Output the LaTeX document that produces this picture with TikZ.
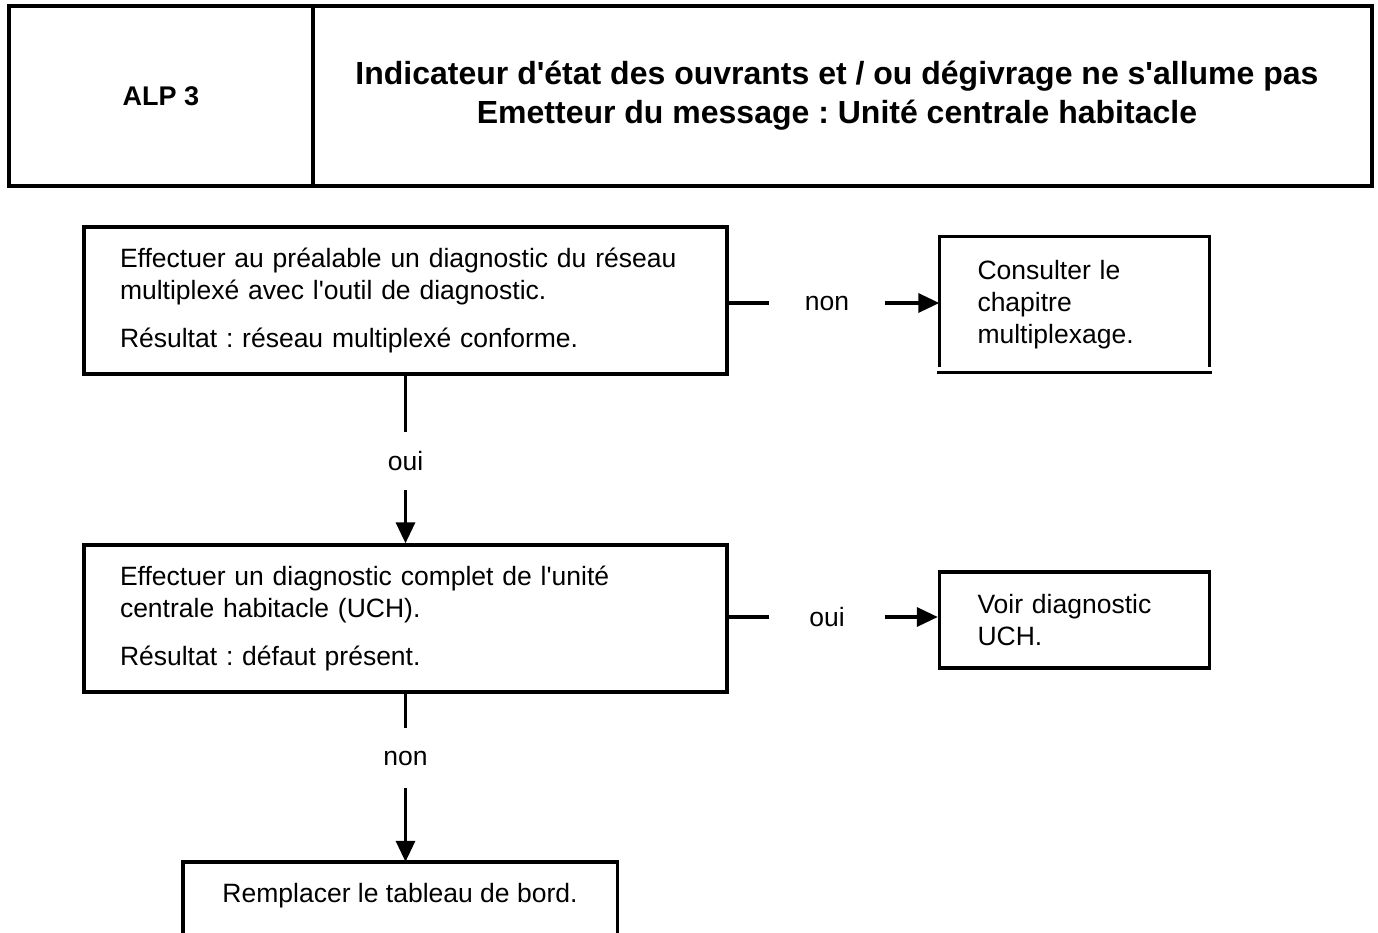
\documentclass[tikz,border=0pt]{standalone}
\usepackage{fontspec}
\setmainfont{Liberation Sans}
% plain family without TeX ligature mapping, so ' stays a straight apostrophe
\newfontfamily\arialfam{Liberation Sans}
\usetikzlibrary{arrows.meta}
\frenchspacing
\begin{document}
\begin{tikzpicture}[x=1pt,y=-1pt,
  line/.style={line width=3.4pt},
  arrow/.style={line width=3.4pt,-{Triangle[length=21pt,width=19pt]}},
  body/.style={font=\arialfam\fontsize{26.5}{32}\selectfont},
  headcell/.style={draw,line width=3.4pt,inner sep=0pt,minimum height=180,align=center},
  stepbox/.style={draw,line width=3.4pt,body,align=left,inner ysep=0pt},
  plainbox/.style={body,align=left,inner ysep=0pt},
  lbl/.style={body,inner sep=0pt}
]
\useasboundingbox (0,0) rectangle (1378,933);

% header
\node[headcell,minimum width=304,font=\arialfam\bfseries\fontsize{27}{32}\selectfont] (alp) at (161,96) {ALP 3};
\node[headcell,minimum width=1059] (titlecell) at (842.5,96) {};
\node[font=\arialfam\bfseries\fontsize{32}{39}\selectfont,align=center,inner sep=0pt] (title) at (837,96)
  {Indicateur d'état des ouvrants et / ou dégivrage ne s'allume pas\\
   Emetteur du message : Unité centrale habitacle};

% first check
\node[stepbox,text width=571,inner xsep=36,minimum height=147] (b1) at (405.5,300.5)
  {Effectuer au préalable un diagnostic du réseau\\
   multiplexé avec l'outil de diagnostic.\\[16pt]
   Résultat : réseau multiplexé conforme.};
\node[plainbox,text width=194,inner xsep=38,minimum height=135] (c1) at (1074.5,304.5)
  {Consulter le\\ chapitre\\ multiplexage.};
\draw[line] ([yshift=5]c1.south west) -- (c1.north west) -- (c1.north east) -- ([yshift=5]c1.south east);
\draw[line] ([xshift=-2]c1.south west) -- ([xshift=2]c1.south east);

\node[lbl,minimum width=116] (n1) at (827,303) {non};
\draw[line] (b1.east |- n1) -- (n1.west);
\draw[arrow] (n1.east) -- (c1.west |- n1);

\node[lbl,minimum height=58] (o1) at (b1.south |- 0,461) {oui};
\draw[line] (b1.south) -- (o1.north);

% second check
\node[stepbox,text width=571,inner xsep=36,minimum height=147] (b2) at (405.5,618.5)
  {Effectuer un diagnostic complet de l'unité\\
   centrale habitacle (UCH).\\[16pt]
   Résultat : défaut présent.};
\draw[arrow] (o1.south) -- (b2.north);

\node[stepbox,text width=194,inner xsep=38,minimum height=96] (c2) at (1074.5,620)
  {Voir diagnostic\\ UCH.};
\node[lbl,minimum width=116] (o2) at (827,617) {oui};
\draw[line] (b2.east |- o2) -- (o2.west);
\draw[arrow] (o2.east) -- (c2.west |- o2);

\node[lbl,minimum height=60] (n2) at (b2.south |- 0,758) {non};
\draw[line] (b2.south) -- (n2.north);

% final action, open at the bottom
\node[body,minimum width=434,minimum height=68,inner sep=0pt] (b3) at (400,896)
  {Remplacer le tableau de bord.};
\draw[line] ([yshift=-6]b3.south west) -- (b3.north west) -- (b3.north east) -- ([yshift=-6]b3.south east);
\draw[arrow] (n2.south) -- (n2.south |- b3.north);
\end{tikzpicture}
\end{document}
